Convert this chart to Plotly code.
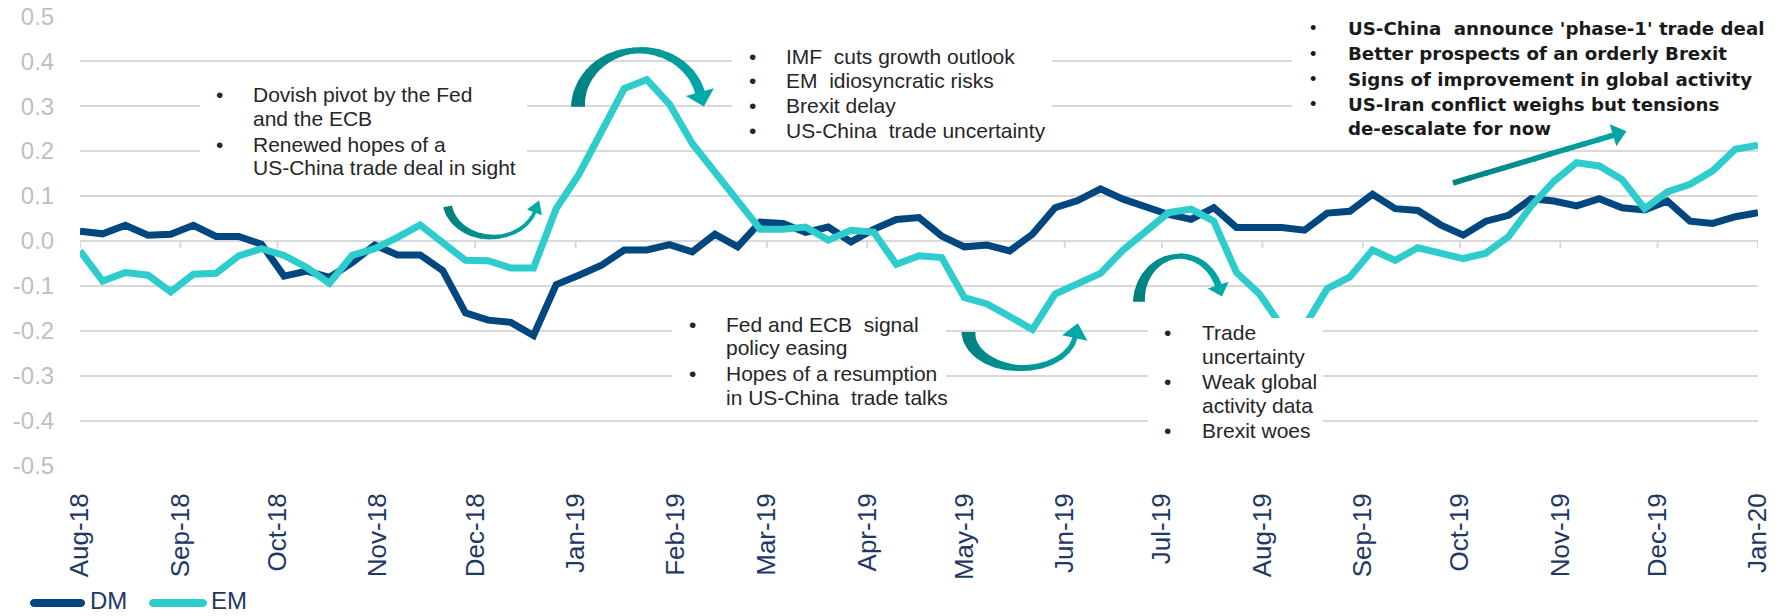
import math
import pandas as pd
import plotly.graph_objects as go

# ---------------- data ----------------
DATES = pd.date_range("2018-08-01", periods=75, freq="7D")   # weekly observations
DM = [0.022, 0.016, 0.035, 0.013, 0.015, 0.035, 0.010, 0.010, -0.007, -0.078,
      -0.067, -0.081, -0.048, -0.009, -0.031, -0.031, -0.066, -0.160, -0.176, -0.181,
      -0.210, -0.097, -0.076, -0.054, -0.020, -0.020, -0.008, -0.024, 0.015, -0.013,
      0.042, 0.039, 0.019, 0.031, -0.002, 0.026, 0.048, 0.052, 0.011, -0.013,
      -0.009, -0.022, 0.015, 0.074, 0.090, 0.116, 0.093, 0.075, 0.059, 0.048,
      0.074, 0.030, 0.030, 0.030, 0.024, 0.062, 0.066, 0.104, 0.072, 0.068,
      0.036, 0.013, 0.044, 0.057, 0.094, 0.089, 0.078, 0.094, 0.074, 0.069,
      0.089, 0.044, 0.039, 0.054, 0.063]
EM = [-0.022, -0.089, -0.070, -0.076, -0.113, -0.074, -0.072, -0.033, -0.017, -0.032,
      -0.059, -0.094, -0.032, -0.017, 0.008, 0.036, -0.004, -0.043, -0.044, -0.060,
      -0.060, 0.072, 0.148, 0.245, 0.339, 0.359, 0.304, 0.217, 0.152, 0.085,
      0.026, 0.026, 0.031, 0.002, 0.024, 0.020, -0.052, -0.033, -0.037, -0.126,
      -0.140, -0.168, -0.197, -0.118, -0.093, -0.072, -0.020, 0.022, 0.063, 0.071,
      0.044, -0.070, -0.117, -0.190, -0.190, -0.106, -0.080, -0.020, -0.043, -0.015,
      -0.028, -0.039, -0.027, 0.010, 0.078, 0.133, 0.174, 0.167, 0.137, 0.072,
      0.109, 0.126, 0.156, 0.204, 0.213]
MONTH_TICKS = pd.date_range("2018-08-01", "2020-01-01", freq="MS")
MONTH_LABELS = [d.strftime("%b-%y") for d in MONTH_TICKS]
Y_TICK_VALUES = [-0.5, -0.4, -0.3, -0.2, -0.1, 0.0, 0.1, 0.2, 0.3, 0.4, 0.5]
Y_TICK_LABELS = ["-0.5", "-0.4", "-0.3", "-0.2", "-0.1", "0.0", "0.1", "0.2", "0.3", "0.4", "0.5"]

NOTE_DOVISH = [["Dovish pivot by the Fed", "and the ECB"],
               ["Renewed hopes of a", "US-China trade deal in sight"]]
NOTE_IMF = [["IMF  cuts growth outlook"], ["EM  idiosyncratic risks"],
            ["Brexit delay"], ["US-China  trade uncertainty"]]
NOTE_FED = [["Fed and ECB  signal", "policy easing"],
            ["Hopes of a resumption", "in US-China  trade talks"]]
NOTE_TRADE = [["Trade", "uncertainty"], ["Weak global", "activity data"], ["Brexit woes"]]
NOTE_PHASE1 = [["US-China  announce 'phase-1' trade deal"],
               ["Better prospects of an orderly Brexit"],
               ["Signs of improvement in global activity"],
               ["US-Iran conflict weighs but tensions", "de-escalate for now"]]

# ---------------- styling ----------------
W, H = 1788, 616
PL, PR, PT, PB = 80, 1758, 16, 466     # plot area in pixels
DM_COLOR = "#00467F"
EM_COLOR = "#2ECCCC"
NAVY = "#1F3864"
GRID = "#D9D9D9"
TXT = "#262626"
FONT = "Liberation Sans, Arial, sans-serif"


def xp(px):
    return (px - PL) / (PR - PL)


def yp(py):
    return (PB - py) / (PB - PT)


def path_of(points):
    return "M" + " L".join(f"{xp(x):.5f},{yp(y):.5f}" for x, y in points) + " Z"


def mix(c0, c1, t):
    a = [int(c0[i:i + 2], 16) for i in (1, 3, 5)]
    b = [int(c1[i:i + 2], 16) for i in (1, 3, 5)]
    return "#" + "".join(f"{round(a[k] + (b[k] - a[k]) * t):02X}" for k in range(3))


def interp(t, pts):
    for (t0, v0), (t1, v1) in zip(pts[:-1], pts[1:]):
        if t <= t1:
            return v0 + (v1 - v0) * (t - t0) / (t1 - t0)
    return pts[-1][1]


shapes = []


def add_poly(points, color):
    shapes.append(dict(type="path", xref="paper", yref="paper", path=path_of(points),
                       fillcolor=color, line=dict(width=0), layer="above"))


def arc_arrow(cx, cy, rx, ry, a0, a1, widths, head_len, head_w,
              c0="#007F7E", c1="#00A8A8", nseg=14, nsamp=6):
    sgn = 1 if a1 > a0 else -1
    N = nseg * nsamp
    samples = []
    for i in range(N + 1):
        t = i / N
        a = math.radians(a0 + (a1 - a0) * t)
        px, py = cx + rx * math.cos(a), cy + ry * math.sin(a)
        tx, ty = -rx * math.sin(a) * sgn, ry * math.cos(a) * sgn
        n = math.hypot(tx, ty)
        tx, ty = tx / n, ty / n
        w = interp(t, widths) / 2
        samples.append(((px - ty * w, py + tx * w), (px + ty * w, py - tx * w), (px, py), (tx, ty)))
    for s in range(nseg):
        i0, i1 = s * nsamp, min(N, (s + 1) * nsamp + 1)
        seg = samples[i0:i1 + 1]
        pts = [p[0] for p in seg] + [p[1] for p in reversed(seg)]
        add_poly(pts, mix(c0, c1, (s + 0.5) / nseg))
    (px, py), (tx, ty) = samples[-1][2], samples[-1][3]
    bx, by = px - tx * 1.0, py - ty * 1.0
    hw = head_w / 2
    add_poly([(bx - ty * hw, by + tx * hw), (px + tx * head_len, py + ty * head_len),
              (bx + ty * hw, by - tx * hw)], c1)


def straight_arrow(x0, y0, x1, y1, width, head_len, head_w, c0="#00807F", c1="#00A5A5", nseg=10):
    dx, dy = x1 - x0, y1 - y0
    L = math.hypot(dx, dy)
    tx, ty = dx / L, dy / L
    nx, ny = -ty, tx
    w = width / 2
    for s in range(nseg):
        a = s / nseg
        b = min(1.0, (s + 1.15) / nseg)
        p = (x0 + dx * a, y0 + dy * a)
        q = (x0 + dx * b, y0 + dy * b)
        add_poly([(p[0] + nx * w, p[1] + ny * w), (q[0] + nx * w, q[1] + ny * w),
                  (q[0] - nx * w, q[1] - ny * w), (p[0] - nx * w, p[1] - ny * w)],
                 mix(c0, c1, (s + 0.5) / nseg))
    hw = head_w / 2
    bx, by = x1 - tx, y1 - ty
    add_poly([(bx + nx * hw, by + ny * hw), (x1 + tx * head_len, y1 + ty * head_len),
              (bx - nx * hw, by - ny * hw)], c1)


# white text boxes (cover gridlines / lines like the original text boxes)
for (x0, y0, x1, y1) in [(200, 75, 527, 185), (732, 35, 1052, 145), (672, 305, 946, 412),
                         (1148, 318, 1323, 447), (1292, 4, 1788, 140)]:
    shapes.append(dict(type="rect", xref="paper", yref="paper", x0=xp(x0), x1=xp(x1),
                       y0=yp(y1), y1=yp(y0), fillcolor="white", line=dict(width=0), layer="above"))

# axis tick marks on the zero line
for d in MONTH_TICKS:
    shapes.append(dict(type="line", xref="x", yref="y", x0=d, x1=d, y0=0, y1=-0.0155,
                       line=dict(color=GRID, width=2), layer="below"))

# curved / straight arrows
arc_arrow(492, 200, 45, 37, 170, 18, [(0, 9), (0.6, 4), (1, 3.5)], 12, 16)
arc_arrow(640, 106.7, 62, 56.4, 180, 346, [(0, 14), (0.5, 6), (1, 10)], 14, 29)
arc_arrow(1022, 332, 53.5, 36, 180, 8, [(0, 14), (0.5, 6), (1, 5)], 14, 26)
arc_arrow(1180, 301.7, 41, 45.5, 180, 340, [(0, 12), (0.5, 5), (1, 7)], 11, 22)
straight_arrow(1453, 183, 1614, 135, 5.5, 13, 23)

# legend samples (rounded bars)
def stadium(x0, x1, yc, h):
    r = h / 2
    pts = []
    for k in range(13):
        a = math.pi / 2 + math.pi * k / 12
        pts.append((x0 + r + r * math.cos(a), yc - r * math.sin(a)))
    for k in range(13):
        a = -math.pi / 2 + math.pi * k / 12
        pts.append((x1 - r + r * math.cos(a), yc - r * math.sin(a)))
    return pts

add_poly(stadium(30, 85, 603, 8), DM_COLOR)
add_poly(stadium(149, 207, 603, 8), EM_COLOR)

# ---------------- figure ----------------
fig = go.Figure()
fig.add_trace(go.Scatter(x=DATES, y=DM, name="DM", mode="lines",
                         line=dict(color=DM_COLOR, width=7)))
fig.add_trace(go.Scatter(x=DATES, y=EM, name="EM", mode="lines",
                         line=dict(color=EM_COLOR, width=7)))

annotations = []


def note_block(groups, bullet_x, text_x, ys, size=21, bold=False, family=FONT, color=TXT):
    k = 0
    for g in groups:
        for j, line in enumerate(g):
            y = ys[k]
            if j == 0:
                annotations.append(dict(xref="paper", yref="paper", x=xp(bullet_x), y=yp(y),
                                        text="•", showarrow=False, xanchor="center", yanchor="middle",
                                        font=dict(family=FONT, size=size, color=color)))
            annotations.append(dict(xref="paper", yref="paper", x=xp(text_x), y=yp(y),
                                    text=f"<b>{line}</b>" if bold else line, showarrow=False,
                                    xanchor="left", yanchor="middle",
                                    font=dict(family=family, size=size, color=color)))
            k += 1


note_block(NOTE_DOVISH, 219, 251, [94, 118, 144, 167.5])
note_block(NOTE_IMF, 752, 784, [56, 80.5, 105.8, 130])
note_block(NOTE_FED, 692, 723.5, [324, 347.5, 373.5, 397.5])
note_block(NOTE_TRADE, 1167, 1200, [332, 356.5, 381.7, 405.6, 430])
note_block(NOTE_PHASE1, 1312.7, 1346, [28.3, 53.7, 79, 104, 129], size=18.2, bold=True,
           family="DejaVu Sans, Liberation Sans, Arial", color="#1A1A1A")

# legend labels
annotations.append(dict(xref="paper", yref="paper", x=xp(88), y=yp(600), text="DM", showarrow=False,
                        xanchor="left", yanchor="middle", font=dict(family=FONT, size=24, color=NAVY)))
annotations.append(dict(xref="paper", yref="paper", x=xp(209), y=yp(600), text="EM", showarrow=False,
                        xanchor="left", yanchor="middle", font=dict(family=FONT, size=24, color=NAVY)))

fig.update_layout(
    width=W, height=H, autosize=False,
    margin=dict(l=PL, r=W - PR, t=PT, b=H - PB, pad=0, autoexpand=False),
    paper_bgcolor="white", plot_bgcolor="white",
    showlegend=False,
    shapes=shapes, annotations=annotations,
    font=dict(family=FONT),
)
fig.update_xaxes(range=[DATES[0], DATES[-1]], tickvals=list(MONTH_TICKS), ticktext=MONTH_LABELS,
                 tickangle=-90, tickfont=dict(family=FONT, size=26, color=NAVY),
                 ticks="outside", ticklen=16, tickcolor="rgba(0,0,0,0)", automargin=False,
                 showgrid=False, zeroline=False, showline=False)
fig.update_yaxes(range=[-0.5005, 0.5005], tickvals=Y_TICK_VALUES, ticktext=Y_TICK_LABELS,
                 tickfont=dict(family=FONT, size=24, color="#BFBFBF"), automargin=False,
                 ticks="outside", ticklen=20, tickcolor="rgba(0,0,0,0)",
                 showgrid=True, gridcolor=GRID, gridwidth=2, zeroline=False, showline=False)

fig.write_html("out.html", config={"displayModeBar": False},
               post_script="document.body.style.margin='0';document.body.style.overflow='hidden';")
